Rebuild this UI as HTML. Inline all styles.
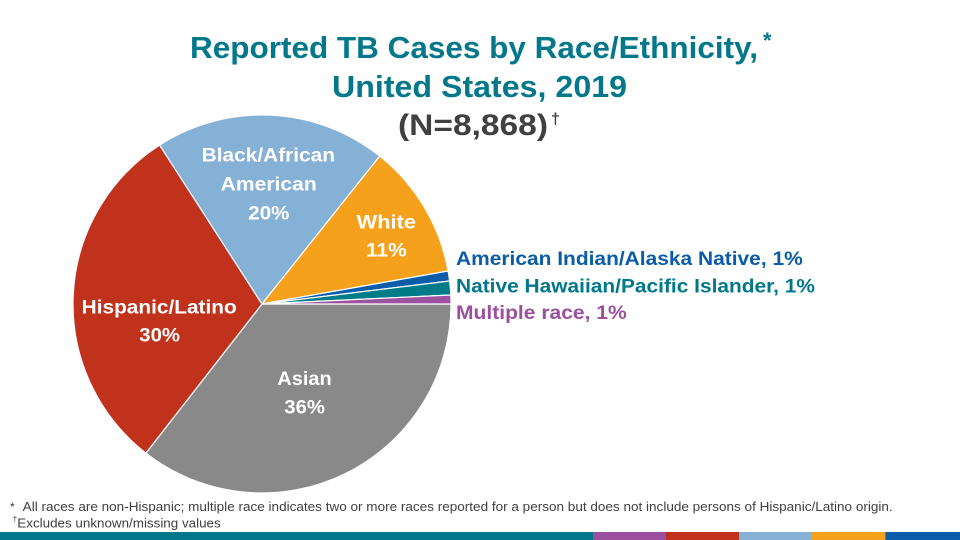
<!DOCTYPE html>
<html>
<head>
<meta charset="utf-8">
<style>
  html, body { margin:0; padding:0; background:#ffffff; }
  body { width:960px; height:540px; overflow:hidden; }
  svg { display:block; }
  text { font-family: "Liberation Sans", "DejaVu Sans", sans-serif; }
</style>
</head>
<body>
<svg width="960" height="540" viewBox="0 0 960 540" xmlns="http://www.w3.org/2000/svg">
  <rect x="0" y="0" width="960" height="540" fill="#ffffff"/>

  <!-- Title -->
  <text x="190" y="58" font-size="31" font-weight="bold" fill="#02788a" textLength="568" lengthAdjust="spacingAndGlyphs">Reported TB Cases by Race/Ethnicity,</text>
  <text x="763" y="48" font-size="22" font-weight="bold" fill="#02788a">*</text>
  <text x="332" y="97" font-size="31" font-weight="bold" fill="#02788a" textLength="295" lengthAdjust="spacingAndGlyphs">United States, 2019</text>
  <text x="398" y="135" font-size="30" font-weight="bold" fill="#404040" textLength="150" lengthAdjust="spacingAndGlyphs">(N=8,868)</text>
  <text x="551" y="124" font-size="16" font-weight="bold" fill="#404040">†</text>

  <!-- Pie -->
  <g stroke="#ffffff" stroke-width="1.2" stroke-linejoin="round">
    <path d="M262,304 L451,304 A189,189 0 0,1 145.9,453.1 Z" fill="#898989"/>
    <path d="M262,304 L145.9,453.1 A189,189 0 0,1 159.6,145.1 Z" fill="#c0321c"/>
    <path d="M262,304 L159.6,145.1 A189,189 0 0,1 379.7,156.1 Z" fill="#86b1d7"/>
    <path d="M262,304 L379.7,156.1 A189,189 0 0,1 448.1,271.0 Z" fill="#f5a11c"/>
    <path d="M262,304 L448.1,271.0 A189,189 0 0,1 449.6,281.0 Z" fill="#0b5daa"/>
    <path d="M262,304 L449.6,281.0 A189,189 0 0,1 450.8,295.0 Z" fill="#007c89"/>
    <path d="M262,304 L450.8,295.0 A189,189 0 0,1 451,304 Z" fill="#9c52a0"/>
  </g>

  <!-- Pie labels -->
  <g font-size="19.5" font-weight="bold" fill="#ffffff">
    <text x="201.7" y="161.7" textLength="133.3" lengthAdjust="spacingAndGlyphs">Black/African</text>
    <text x="220.7" y="190.7" textLength="96" lengthAdjust="spacingAndGlyphs">American</text>
    <text x="248.3" y="219.3" textLength="41" lengthAdjust="spacingAndGlyphs">20%</text>
    <text x="356.7" y="228.3" textLength="59.3" lengthAdjust="spacingAndGlyphs">White</text>
    <text x="366" y="256.7" textLength="40.7" lengthAdjust="spacingAndGlyphs">11%</text>
    <text x="81.7" y="313.3" textLength="155" lengthAdjust="spacingAndGlyphs">Hispanic/Latino</text>
    <text x="139.3" y="341.7" textLength="40.7" lengthAdjust="spacingAndGlyphs">30%</text>
    <text x="277.3" y="385" textLength="54.4" lengthAdjust="spacingAndGlyphs">Asian</text>
    <text x="284.3" y="413.3" textLength="40.7" lengthAdjust="spacingAndGlyphs">36%</text>
  </g>

  <!-- Outside labels -->
  <g font-size="19.5" font-weight="bold">
    <text x="456" y="265" fill="#0b5ca8" textLength="346.7" lengthAdjust="spacingAndGlyphs">American Indian/Alaska Native, 1%</text>
    <text x="456" y="292.7" fill="#00788a" textLength="359" lengthAdjust="spacingAndGlyphs">Native Hawaiian/Pacific Islander, 1%</text>
    <text x="456" y="319" fill="#9b4f9f" textLength="170.7" lengthAdjust="spacingAndGlyphs">Multiple race, 1%</text>
  </g>

  <!-- Footnotes -->
  <g fill="#404040">
    <text x="10" y="511" font-size="12">*</text>
    <text x="22.7" y="511" font-size="12.5" textLength="870" lengthAdjust="spacingAndGlyphs">All races are non-Hispanic; multiple race indicates two or more races reported for a person but does not include persons of Hispanic/Latino origin.</text>
    <text x="12.5" y="522" font-size="8.5">†</text>
    <text x="17.3" y="527.3" font-size="12.5" textLength="203.4" lengthAdjust="spacingAndGlyphs">Excludes unknown/missing values</text>
  </g>

  <!-- Bottom bar -->
  <rect x="0" y="532" width="593" height="8" fill="#02788a"/>
  <rect x="593" y="532" width="73" height="8" fill="#9b4f9f"/>
  <rect x="666" y="532" width="73" height="8" fill="#c0321c"/>
  <rect x="739" y="532" width="73" height="8" fill="#86b1d7"/>
  <rect x="812" y="532" width="73.3" height="8" fill="#f5a11c"/>
  <rect x="885.3" y="532" width="74.7" height="8" fill="#0b5daa"/>
</svg>
</body>
</html>
